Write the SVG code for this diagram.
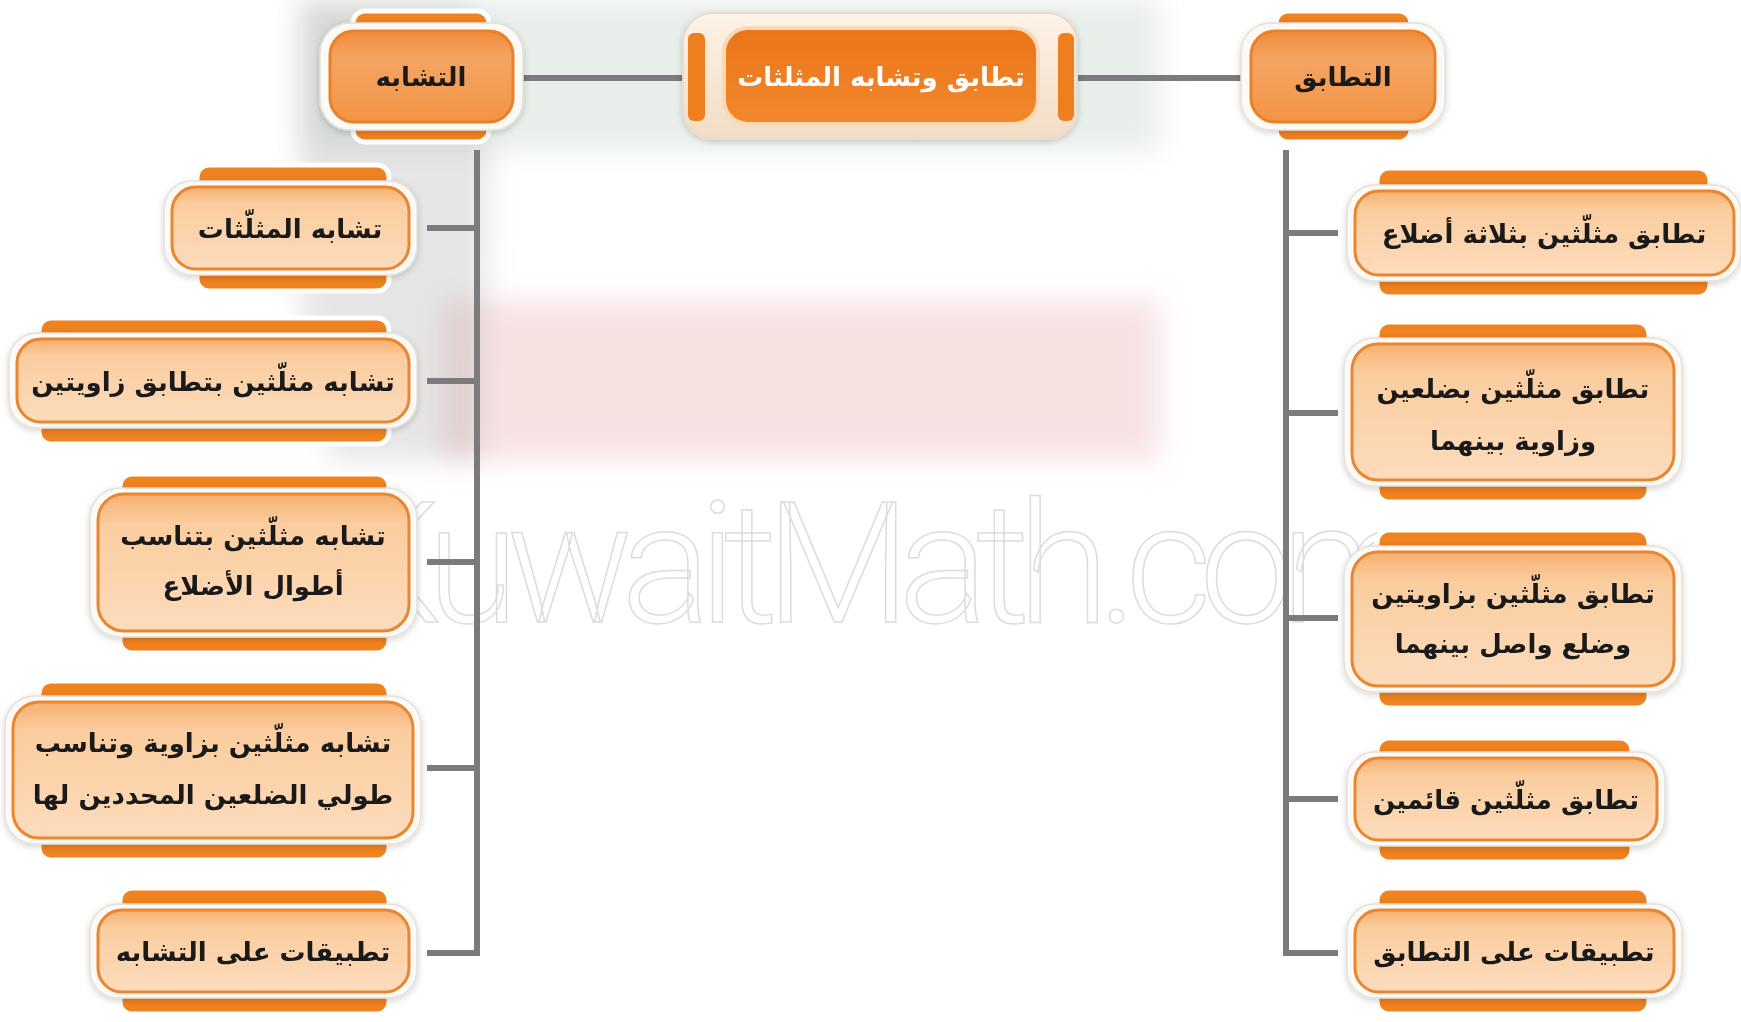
<svg xmlns="http://www.w3.org/2000/svg" width="1741" height="1022" viewBox="0 0 1741 1022">
<defs>
<linearGradient id="childGrad" x1="0" y1="0" x2="0" y2="1">
<stop offset="0" stop-color="#f6b070"/>
<stop offset="0.22" stop-color="#fbcd9f"/>
<stop offset="1" stop-color="#fcdcbd"/>
</linearGradient>
<linearGradient id="topGrad" x1="0" y1="0" x2="0" y2="1">
<stop offset="0" stop-color="#f08b3a"/>
<stop offset="0.3" stop-color="#f5a462"/>
<stop offset="1" stop-color="#f29446"/>
</linearGradient>
<linearGradient id="centerGrad" x1="0" y1="0" x2="0" y2="1">
<stop offset="0" stop-color="#ec7418"/>
<stop offset="1" stop-color="#f2882c"/>
</linearGradient>
<linearGradient id="frameGrad" x1="0" y1="0" x2="0" y2="1">
<stop offset="0" stop-color="#fdf3e8"/>
<stop offset="1" stop-color="#f3dcc4"/>
</linearGradient>
<filter id="sh" x="-10%" y="-20%" width="120%" height="140%">
<feDropShadow dx="0" dy="2" stdDeviation="3" flood-color="#000" flood-opacity="0.18"/>
</filter>
<filter id="blur" x="-10%" y="-10%" width="120%" height="120%">
<feGaussianBlur stdDeviation="14"/>
</filter>
</defs>
<style>
.tab{fill:#f0821f;stroke:#ffffff;stroke-width:5}
.halo{fill:#fdfaf6;stroke:#e4e0dc;stroke-width:1.5}
.box{fill:url(#childGrad);stroke:#ea8630;stroke-width:3}
.tbox{fill:url(#topGrad);stroke:#e98128;stroke-width:3}
.conn{stroke:#7b7b7e;stroke-width:6;fill:none;stroke-linecap:butt}
text{font-family:"DejaVu Sans","Noto Sans",sans-serif;font-weight:bold;text-anchor:middle;fill:#1a1a1a;font-size:26px}
.ctext{fill:#ffffff;font-size:26px}
.wm{font-family:Roboto,"Liberation Sans",sans-serif;font-weight:300;fill:none;stroke:#dcdcdc;stroke-width:1.5;font-size:168px;text-anchor:start}
</style>

<g id="background">
<g filter="url(#blur)">
<rect x="300" y="0" width="860" height="150" fill="#bccfbf" opacity="0.35"/>
<rect x="440" y="300" width="720" height="160" fill="#eab3b3" opacity="0.38"/>
<polygon points="300,0 470,0 490,150 480,460 330,460 300,300" fill="#a0a0a0" opacity="0.28"/>
</g>
<text class="wm" x="335" y="622" textLength="1095">KuwaitMath.com</text>
</g>

<g id="connectors">
<line class="conn" x1="513" y1="78" x2="690" y2="78"/>
<line class="conn" x1="1072" y1="78" x2="1251" y2="78"/>
<polyline class="conn" points="477,150 477,953 427,953"/>
<line class="conn" x1="477" y1="228" x2="427" y2="228"/>
<line class="conn" x1="477" y1="381" x2="427" y2="381"/>
<line class="conn" x1="477" y1="562" x2="427" y2="562"/>
<line class="conn" x1="477" y1="768" x2="427" y2="768"/>
<polyline class="conn" points="1286,150 1286,953 1338,953"/>
<line class="conn" x1="1286" y1="233" x2="1338" y2="233"/>
<line class="conn" x1="1286" y1="413" x2="1338" y2="413"/>
<line class="conn" x1="1286" y1="618" x2="1338" y2="618"/>
<line class="conn" x1="1286" y1="799" x2="1338" y2="799"/>
</g>

<g id="center">
<rect x="683" y="13" width="394" height="126" rx="30" fill="url(#frameGrad)" stroke="#eadccc" stroke-width="2" filter="url(#sh)"/>
<rect x="688" y="33" width="17" height="88" rx="6" fill="#ef7f1e"/>
<rect x="1058" y="33" width="16" height="88" rx="6" fill="#ef7f1e"/>
<rect x="724" y="28" width="314" height="96" rx="24" fill="url(#centerGrad)" stroke="#fbd9b4" stroke-width="4"/>
<text class="ctext" x="881" y="86">تطابق وتشابه المثلثات</text>
</g>

<g id="top-left">
<rect class="tab" x="353" y="11" width="136" height="40" rx="12"/>
<rect class="tab" x="353" y="102" width="136" height="40" rx="12"/>
<rect class="halo" x="320" y="23" width="203" height="107" rx="30" filter="url(#sh)"/>
<rect class="tbox" x="330" y="31" width="183" height="91" rx="24"/>
<text x="421" y="86">التشابه</text>
</g>

<g id="top-right">
<rect class="tab" x="1276" y="11" width="135" height="40" rx="12"/>
<rect class="tab" x="1276" y="102" width="135" height="40" rx="12"/>
<rect class="halo" x="1241" y="23" width="204" height="107" rx="30" filter="url(#sh)"/>
<rect class="tbox" x="1251" y="31" width="184" height="91" rx="24"/>
<text x="1343" y="86">التطابق</text>
</g>

<g id="left-1">
<rect class="tab" x="197" y="165" width="192" height="36" rx="12"/>
<rect class="tab" x="197" y="255" width="192" height="36" rx="12"/>
<rect class="halo" x="164" y="181" width="253" height="94" rx="28" filter="url(#sh)"/>
<rect class="box" x="172" y="187" width="237" height="82" rx="24"/>
<text x="290" y="238">تشابه المثلّثات</text>
</g>

<g id="left-2">
<rect class="tab" x="39" y="318" width="350" height="36" rx="12"/>
<rect class="tab" x="39" y="408" width="350" height="36" rx="12"/>
<rect class="halo" x="9" y="333" width="408" height="95" rx="28" filter="url(#sh)"/>
<rect class="box" x="17" y="339" width="392" height="83" rx="24"/>
<text x="213" y="391">تشابه مثلّثين بتطابق زاويتين</text>
</g>

<g id="left-3">
<rect class="tab" x="120" y="474" width="269" height="36" rx="12"/>
<rect class="tab" x="120" y="617" width="269" height="36" rx="12"/>
<rect class="halo" x="90" y="488" width="327" height="149" rx="30" filter="url(#sh)"/>
<rect class="box" x="98" y="494" width="311" height="137" rx="26"/>
<text x="253" y="545">تشابه مثلّثين بتناسب</text>
<text x="253" y="595">أطوال الأضلاع</text>
</g>

<g id="left-4">
<rect class="tab" x="39" y="681" width="350" height="36" rx="12"/>
<rect class="tab" x="39" y="824" width="350" height="36" rx="12"/>
<rect class="halo" x="5" y="696" width="416" height="148" rx="30" filter="url(#sh)"/>
<rect class="box" x="13" y="702" width="400" height="136" rx="26"/>
<text x="213" y="752">تشابه مثلّثين بزاوية وتناسب</text>
<text x="213" y="804">طولي الضلعين المحددين لها</text>
</g>

<g id="left-5">
<rect class="tab" x="120" y="888" width="269" height="36" rx="12"/>
<rect class="tab" x="120" y="978" width="269" height="36" rx="12"/>
<rect class="halo" x="90" y="904" width="327" height="94" rx="28" filter="url(#sh)"/>
<rect class="box" x="98" y="910" width="311" height="82" rx="24"/>
<text x="253" y="961">تطبيقات على التشابه</text>
</g>

<g id="right-1">
<rect class="tab" x="1377" y="168" width="333" height="36" rx="12"/>
<rect class="tab" x="1377" y="261" width="333" height="36" rx="12"/>
<rect class="halo" x="1347" y="185" width="394" height="96" rx="28" filter="url(#sh)"/>
<rect class="box" x="1355" y="191" width="379" height="84" rx="24"/>
<text x="1544" y="243">تطابق مثلّثين بثلاثة أضلاع</text>
</g>

<g id="right-2">
<rect class="tab" x="1377" y="322" width="272" height="36" rx="12"/>
<rect class="tab" x="1377" y="466" width="272" height="36" rx="12"/>
<rect class="halo" x="1344" y="338" width="338" height="148" rx="30" filter="url(#sh)"/>
<rect class="box" x="1352" y="344" width="322" height="136" rx="26"/>
<text x="1513" y="398">تطابق مثلّثين بضلعين</text>
<text x="1513" y="450">وزاوية بينهما</text>
</g>

<g id="right-3">
<rect class="tab" x="1377" y="530" width="272" height="36" rx="12"/>
<rect class="tab" x="1377" y="672" width="272" height="36" rx="12"/>
<rect class="halo" x="1344" y="546" width="338" height="146" rx="30" filter="url(#sh)"/>
<rect class="box" x="1352" y="552" width="322" height="134" rx="26"/>
<text x="1513" y="603">تطابق مثلّثين بزاويتين</text>
<text x="1513" y="653">وضلع واصل بينهما</text>
</g>

<g id="right-4">
<rect class="tab" x="1377" y="738" width="255" height="36" rx="12"/>
<rect class="tab" x="1377" y="826" width="255" height="36" rx="12"/>
<rect class="halo" x="1347" y="752" width="318" height="94" rx="28" filter="url(#sh)"/>
<rect class="box" x="1355" y="758" width="302" height="82" rx="24"/>
<text x="1506" y="809">تطابق مثلّثين قائمين</text>
</g>

<g id="right-5">
<rect class="tab" x="1377" y="888" width="272" height="36" rx="12"/>
<rect class="tab" x="1377" y="978" width="272" height="36" rx="12"/>
<rect class="halo" x="1347" y="904" width="335" height="94" rx="28" filter="url(#sh)"/>
<rect class="box" x="1355" y="910" width="319" height="82" rx="24"/>
<text x="1514" y="961">تطبيقات على التطابق</text>
</g>
</svg>
